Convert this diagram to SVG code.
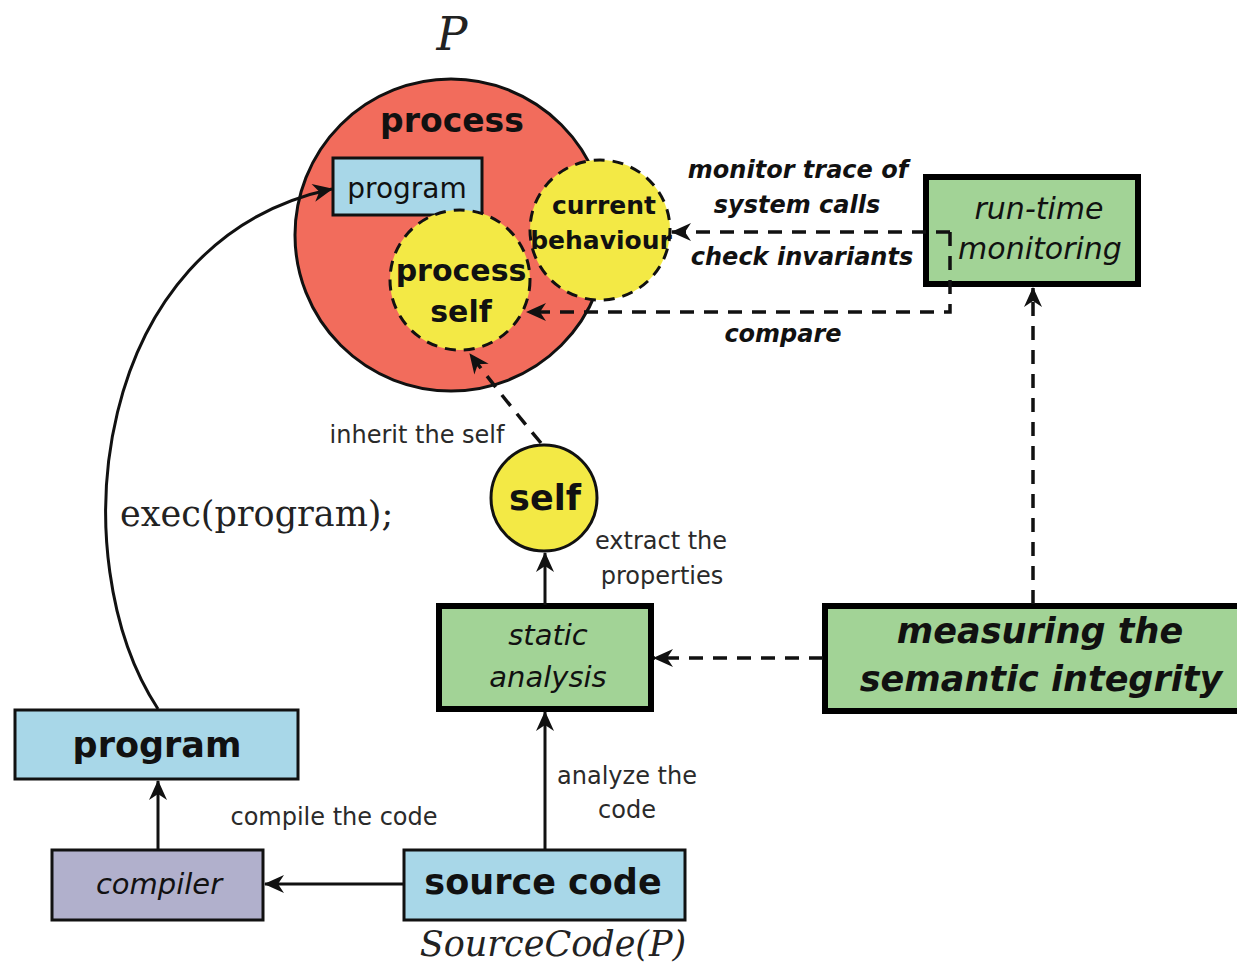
<svg xmlns="http://www.w3.org/2000/svg" width="1237" height="963" viewBox="0 0 1237 963">
<defs>
<style>
.sans{font-family:"DejaVu Sans",Verdana,sans-serif;fill:#111}
.b{font-weight:bold}
.i{font-style:italic}
.lbl{font-size:24px;fill:#2a2a2a}
.blue{fill:#a8d7e8;stroke:#111;stroke-width:3}
.green{fill:#a2d396;stroke:#000;stroke-width:6}
.yel{fill:#f3e945;stroke:#111;stroke-width:3}
.dash{stroke-dasharray:11,8}
.con{fill:none;stroke:#111;stroke-width:3}
.dcon{fill:none;stroke:#111;stroke-width:3.5;stroke-dasharray:14,10}
</style>
<marker id="arr" markerUnits="userSpaceOnUse" markerWidth="26" markerHeight="22" viewBox="-2 -11 26 22" refX="19" refY="0" orient="auto">
<path d="M0,-9 L20,0 L0,9 L6,0 z" fill="#111"/>
</marker>
</defs>
<rect width="1237" height="963" fill="#fff"/>

<text x="452" y="50" font-family="DejaVu Serif,serif" font-style="italic" font-size="46" fill="#222" text-anchor="middle">P</text>

<g id="process">
<circle cx="451" cy="235" r="156" fill="#f26c5c" stroke="#111" stroke-width="3"/>
<text class="sans b" x="452" y="132" font-size="33" text-anchor="middle">process</text>
</g>
<g id="program-inner">
<rect class="blue" x="333" y="158" width="149" height="57"/>
<text class="sans" x="407" y="198" font-size="28" text-anchor="middle" fill="#222">program</text>
</g>
<g id="process-self">
<circle class="yel dash" cx="460" cy="280" r="70"/>
<text class="sans b" x="461" y="281" font-size="30" text-anchor="middle">process</text>
<text class="sans b" x="461" y="322" font-size="30" text-anchor="middle">self</text>
</g>
<g id="current-behaviour">
<circle class="yel dash" cx="600" cy="230" r="70"/>
<text class="sans b" x="604" y="214" font-size="25" text-anchor="middle">current</text>
<text class="sans b" x="601" y="249" font-size="25" text-anchor="middle">behaviour</text>
</g>

<g id="runtime">
<rect class="green" x="926" y="177" width="212" height="107"/>
<text class="sans i" x="1039" y="219" font-size="30" text-anchor="middle" fill="#222">run-time</text>
<text class="sans i" x="1040" y="259" font-size="30" text-anchor="middle" fill="#222">monitoring</text>
</g>

<g id="self">
<circle class="yel" cx="544" cy="498" r="53"/>
<text class="sans b" x="545" y="510" font-size="35" text-anchor="middle">self</text>
</g>

<g id="static">
<rect class="green" x="439" y="606" width="212" height="103"/>
<text class="sans i" x="548" y="645" font-size="29" text-anchor="middle" fill="#222">static</text>
<text class="sans i" x="548" y="687" font-size="29" text-anchor="middle" fill="#222">analysis</text>
</g>

<g id="measuring">
<rect class="green" x="825" y="606" width="420" height="105"/>
<text class="sans b i" x="1040" y="643" font-size="35" text-anchor="middle">measuring the</text>
<text class="sans b i" x="1041" y="691" font-size="35" text-anchor="middle">semantic integrity</text>
</g>

<g id="program">
<rect class="blue" x="15" y="710" width="283" height="69"/>
<text class="sans b" x="157" y="757" font-size="35" text-anchor="middle">program</text>
</g>

<g id="compiler">
<rect x="52" y="850" width="211" height="70" fill="#b1b0cc" stroke="#111" stroke-width="3"/>
<text class="sans i" x="159" y="894" font-size="29" text-anchor="middle" fill="#222">compiler</text>
</g>

<g id="source">
<rect class="blue" x="404" y="850" width="281" height="70"/>
<text class="sans b" x="543" y="894" font-size="35" text-anchor="middle">source code</text>
<text x="553" y="956" font-family="DejaVu Serif,serif" font-style="italic" font-size="35" fill="#222" text-anchor="middle">SourceCode(P)</text>
</g>

<g id="connectors">
<path class="con" d="M158,709 C60,560 90,240 332,189" marker-end="url(#arr)"/>
<path class="con" d="M158,849 V781" marker-end="url(#arr)"/>
<path class="con" d="M403,884 H265" marker-end="url(#arr)"/>
<path class="con" d="M545,849 V712" marker-end="url(#arr)"/>
<path class="con" d="M545,605 V553" marker-end="url(#arr)"/>
<path class="dcon" d="M541,443 Q505,400 470,354" marker-end="url(#arr)"/>
<path class="dcon" d="M950,232 H672" marker-end="url(#arr)"/>
<path class="dcon" d="M950,232 V312 H527" marker-end="url(#arr)"/>
<path class="dcon" d="M1033,604 V288" marker-end="url(#arr)"/>
<path class="dcon" d="M823,658 H654" marker-end="url(#arr)"/>
</g>

<g id="labels">
<text class="sans b i" x="798" y="178" font-size="24" text-anchor="middle">monitor trace of</text>
<text class="sans b i" x="797" y="213" font-size="24" text-anchor="middle">system calls</text>
<text class="sans b i" x="802" y="265" font-size="24" text-anchor="middle">check invariants</text>
<text class="sans b i" x="783" y="342" font-size="24" text-anchor="middle">compare</text>
<text class="sans lbl" x="417" y="443" text-anchor="middle">inherit the self</text>
<text class="sans lbl" x="661" y="549" text-anchor="middle">extract the</text>
<text class="sans lbl" x="662" y="584" text-anchor="middle">properties</text>
<text class="sans lbl" x="627" y="784" text-anchor="middle">analyze the</text>
<text class="sans lbl" x="627" y="818" text-anchor="middle">code</text>
<text class="sans lbl" x="334" y="825" text-anchor="middle">compile the code</text>
<text x="120" y="526" font-family="DejaVu Serif,serif" font-size="35" fill="#222">exec(program);</text>
</g>
</svg>
